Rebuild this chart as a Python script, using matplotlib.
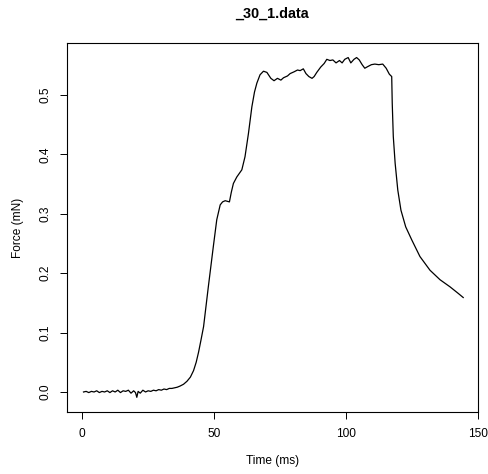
import matplotlib
matplotlib.use('Agg')
import matplotlib.pyplot as plt

plt.rcParams['font.family'] = ['Liberation Sans', 'DejaVu Sans']

# force trace (time in ms, force in mN)
time_ms = [
    0.5, 1.5, 2.5, 3.5, 4.5, 5.5, 6.5, 7.5, 8.5, 9.5, 10.5, 11.5, 12.5, 13.5,
    14.5, 15.5, 16.5, 17.5, 18.5, 19.5, 20.2, 20.7, 21.2, 22.0, 23.0, 24.0,
    25.0, 26.0, 27.0, 28.0, 29.0, 30.0, 31.0, 32.0, 33.0, 34.0, 35.0, 36.0,
    37.1, 38.4, 39.7, 41.0, 42.2, 43.2, 44.1, 45.0, 46.0, 47.8, 49.7, 51.0,
    52.3, 53.2, 54.2, 55.0, 55.8, 56.5, 57.3, 58.6, 60.5, 61.7, 63.0, 64.3,
    65.3, 66.2, 67.4, 68.7, 70.0, 71.5, 72.7, 74.0, 75.3, 76.3, 77.8, 78.8,
    80.3, 81.6, 82.6, 83.8, 84.8, 85.9, 87.1, 87.9, 88.9, 90.4, 91.7, 92.7,
    93.9, 95.0, 96.2, 97.5, 98.5, 99.5, 100.8, 101.8, 103.0, 104.0, 105.0,
    106.1, 107.1, 108.3, 109.6, 110.9, 112.4, 113.9, 115.2, 116.4, 117.3,
    117.5, 117.9, 118.6, 119.6, 120.8, 122.6, 124.9, 128.0, 131.8, 135.6,
    139.4, 142.5, 144.4,
]
force_mN = [
    0.000, 0.001, -0.001, 0.001, 0.000, 0.002, -0.001, 0.001, 0.000, 0.002,
    -0.001, 0.002, 0.000, 0.003, -0.001, 0.002, 0.001, 0.003, -0.002, 0.002,
    -0.001, -0.009, 0.001, -0.002, 0.003, 0.000, 0.002, 0.001, 0.003, 0.002,
    0.004, 0.003, 0.005, 0.004, 0.006, 0.006, 0.007, 0.008, 0.010, 0.013,
    0.018, 0.025, 0.036, 0.050, 0.067, 0.087, 0.110, 0.177, 0.245, 0.290,
    0.315, 0.320, 0.322, 0.321, 0.320, 0.336, 0.351, 0.362, 0.374, 0.396,
    0.435, 0.480, 0.505, 0.520, 0.534, 0.540, 0.538, 0.528, 0.524, 0.528,
    0.525, 0.529, 0.532, 0.536, 0.539, 0.542, 0.541, 0.544, 0.536, 0.531,
    0.528, 0.531, 0.538, 0.547, 0.553, 0.560, 0.558, 0.559, 0.554, 0.558,
    0.554, 0.560, 0.563, 0.554, 0.560, 0.563, 0.559, 0.551, 0.545, 0.548,
    0.551, 0.552, 0.551, 0.552, 0.545, 0.535, 0.531, 0.486, 0.430, 0.385,
    0.340, 0.306, 0.278, 0.256, 0.228, 0.205, 0.189, 0.177, 0.166, 0.159,
]

fig = plt.figure(figsize=(4.89, 4.74), dpi=100)
ax = fig.add_axes([0.137, 0.1308, 0.8405, 0.7785])
ax.plot(time_ms, force_mN, color='black', lw=0.9)

ax.set_xlim(-5.76, 149.9)
ax.set_ylim(-0.0337, 0.5875)
ax.set_xticks([0, 50, 100, 150])
ax.set_yticks([0.0, 0.1, 0.2, 0.3, 0.4, 0.5])
ax.set_yticklabels(['0.0', '0.1', '0.2', '0.3', '0.4', '0.5'], rotation=90, va='center')
ax.tick_params(direction='out', length=5, width=0.7, labelsize=8.6, pad=6.5)
for s in ax.spines.values():
    s.set_linewidth(0.8)

ax.set_xlabel('Time (ms)', fontsize=8.6, labelpad=11)
ax.set_ylabel('Force (mN)', fontsize=8.6, labelpad=11)
fig.suptitle('_30_1.data', x=0.557, y=0.985, fontsize=10.4, fontweight='bold')

fig.savefig('out.png', dpi=100)
